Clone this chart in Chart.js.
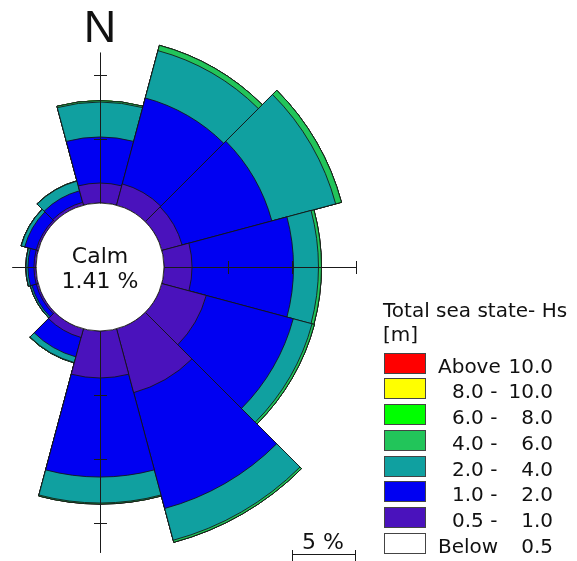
<!DOCTYPE html>
<html>
<head>
<meta charset="utf-8">
<title>Total sea state - Hs</title>
<script src="https://cdn.jsdelivr.net/npm/chart.js@4.4.1/dist/chart.umd.min.js"></script>
<style>
	body { margin: 0; width: 577px; height: 561px; overflow: hidden; background: #fff; position: relative;
		font-family: "DejaVu Sans", Verdana, sans-serif; color: #111; }
	#grafic { position: absolute; left: -220px; top: -53px; width: 640px; height: 640px; }
	.text { position: absolute; white-space: pre; }
	#nord { left: 70px; top: 2px; width: 60px; text-align: center; font-family: "Liberation Sans", Arial, sans-serif;
		font-size: 45px; line-height: 50px; }
	#calma { left: 30px; top: 243px; width: 140px; text-align: center; font-size: 22px; line-height: 25px; }
	#escala { left: 302px; top: 529px; font-size: 22px; line-height: 25px; }
	#titol { left: 383px; top: 298px; font-size: 20px; line-height: 24px; }
	.capsa { position: absolute; left: 384px; width: 40px; height: 19px; border: 1px solid #444; }
	.etiqueta { position: absolute; font-size: 20px; line-height: 24px; white-space: pre; }
</style>
</head>
<body>
<canvas id="grafic" width="640" height="640"></canvas>
<div class="text" id="nord">N</div>
<div class="text" id="calma"></div>
<div class="text" id="escala">5 %</div>
<div class="text" id="titol">Total sea state- Hs
[m]</div>
<div id="llegenda"></div>

<script>
// Direction sectors (30 deg each, clockwise from north)
const sectors = ['0', '30', '60', '90', '120', '150', '180', '210', '240', '270', '300', '330'];

// Frequency (%) of each Hs band per sector
const hsBelow05 = [0, 0, 0, 0, 0, 0, 0, 0, 0, 0, 0, 0];
const hs05to1 = [1.56, 1.72, 1.64, 2.19, 3.59, 5.16, 3.67, 0.70, 0.16, 0.16, 0.16, 0.23];
const hs1to2 = [3.60, 6.95, 7.26, 7.93, 7.04, 9.37, 7.74, 1.57, 0.35, 0.47, 0.93, 0.94];
const hs2to4 = [2.73, 3.83, 5.16, 1.95, 1.52, 2.57, 2.03, 0.46, 0.12, 0.15, 0.28, 0.78];
const hs4to6 = [0.11, 0.43, 0.47, 0.23, 0.19, 0.17, 0.08, 0.03, 0.02, 0.02, 0.02, 0.02];
const hs6to8 = [0, 0, 0, 0, 0, 0, 0, 0, 0, 0, 0, 0];
const hs8to10 = [0, 0, 0, 0, 0, 0, 0, 0, 0, 0, 0, 0];
const hsAbove10 = [0, 0, 0, 0, 0, 0, 0, 0, 0, 0, 0, 0];
const calmPct = 1.41;

// Legend (top to bottom)
const legendFrom = ['Above', '8.0 -', '6.0 -', '4.0 -', '2.0 -', '1.0 -', '0.5 -', 'Below'];
const legendTo = ['10.0', '10.0', '8.0', '6.0', '4.0', '2.0', '1.0', '0.5'];
const bandColors = ['#ff0000', '#ffff00', '#00ff00', '#22c55a', '#10a0a0', '#0000f2', '#4a12bc', '#ffffff'];

// Radial scale ticks (%)
const ringTicks = [5, 10, 15];
const scaleBarPct = 5;

// bands from inside to outside
let bands = [hsBelow05, hs05to1, hs1to2, hs2to4, hs4to6, hs6to8, hs8to10, hsAbove10];
let colorsInside = [...bandColors].reverse();

// cumulative values -> one polarArea dataset per band (inner datasets drawn on top)
let datasets = [];
let acumulat = sectors.map(() => 0);
bands.forEach((band, i) => {
	acumulat = acumulat.map((v, j) => v + band[j]);
	datasets.push({
		data: [...acumulat],
		backgroundColor: colorsInside[i],
		borderColor: 'rgba(20,20,20,0.85)',
		borderWidth: 1
	});
});

document.getElementById('calma').textContent = 'Calm\n' + calmPct.toFixed(2) + ' %';

// HTML legend
let llegenda = document.getElementById('llegenda');
legendFrom.forEach((txt, i) => {
	let top = Math.round(352.7 + 25.7 * i);
	let capsa = document.createElement('div');
	capsa.className = 'capsa';
	capsa.style.top = top + 'px';
	capsa.style.background = bandColors[i];
	llegenda.appendChild(capsa);

	let esq = document.createElement('div');
	esq.className = 'etiqueta';
	esq.textContent = txt;
	esq.style.top = (top + 1) + 'px';
	esq.style.left = (/^[0-9]/.test(txt) ? 452 : 438) + 'px';
	llegenda.appendChild(esq);

	let dre = document.createElement('div');
	dre.className = 'etiqueta';
	dre.textContent = legendTo[i];
	dre.style.top = (top + 1) + 'px';
	dre.style.right = (577 - 553) + 'px';
	llegenda.appendChild(dre);
});

// calm circle, compass axes and scale bar
const axisReach = [11.8, 15, 17.3, 1.9];	// N, E, S, W in % of the radial scale
const rosaPlugin = {
	id: 'rosa',
	afterDatasetsDraw(chart) {
		const ctx = chart.ctx;
		const escala = chart.scales.r;
		const cx = escala.xCenter, cy = escala.yCenter;
		const r0 = escala.getDistanceFromCenterForValue(0);
		ctx.save();

		ctx.beginPath();
		ctx.arc(cx, cy, r0, 0, Math.PI * 2);
		ctx.fillStyle = '#fff';
		ctx.fill();
		ctx.lineWidth = 1;
		ctx.strokeStyle = 'rgba(20,20,20,0.85)';
		ctx.stroke();

		ctx.strokeStyle = '#1a1a1a';
		axisReach.forEach((reach, i) => {
			let ang = i * Math.PI / 2 - Math.PI / 2;
			let dx = Math.cos(ang), dy = Math.sin(ang);
			let rEnd = escala.getDistanceFromCenterForValue(reach);
			let x0 = cx + 0.5, y0 = cy + 0.5;
			ctx.beginPath();
			ctx.moveTo(x0 + dx * r0, y0 + dy * r0);
			ctx.lineTo(x0 + dx * rEnd, y0 + dy * rEnd);
			ringTicks.forEach(t => {
				if (t <= reach + 0.01) {
					let r = escala.getDistanceFromCenterForValue(t);
					ctx.moveTo(x0 + dx * r - dy * 6.5, y0 + dy * r + dx * 6.5);
					ctx.lineTo(x0 + dx * r + dy * 6.5, y0 + dy * r - dx * 6.5);
				}
			});
			ctx.stroke();
		});

		// 5 % scale bar
		let xa = cx + escala.getDistanceFromCenterForValue(10);
		let xb = xa + escala.getDistanceFromCenterForValue(scaleBarPct) - r0;
		let yb = cy + 287.5;
		ctx.beginPath();
		ctx.moveTo(xa, yb);
		ctx.lineTo(xb, yb);
		ctx.moveTo(xa + 0.5, yb - 4.5);
		ctx.lineTo(xa + 0.5, yb + 7);
		ctx.moveTo(xb - 0.5, yb - 4.5);
		ctx.lineTo(xb - 0.5, yb + 7);
		ctx.stroke();
		ctx.restore();
	}
};

new Chart(document.getElementById('grafic'), {
	type: 'polarArea',
	data: { labels: sectors, datasets: datasets },
	options: {
		responsive: false,
		devicePixelRatio: 1,
		animation: false,
		events: [],
		layout: { padding: 0 },
		scales: {
			r: {
				display: false,
				min: -5,
				max: 20,
				startAngle: -15,
				ticks: { display: false, stepSize: 5 },
				grid: { display: false },
				angleLines: { display: false },
				pointLabels: { display: false }
			}
		},
		plugins: {
			legend: { display: false },
			tooltip: { enabled: false }
		}
	},
	plugins: [rosaPlugin]
});
</script>
</body>
</html>
